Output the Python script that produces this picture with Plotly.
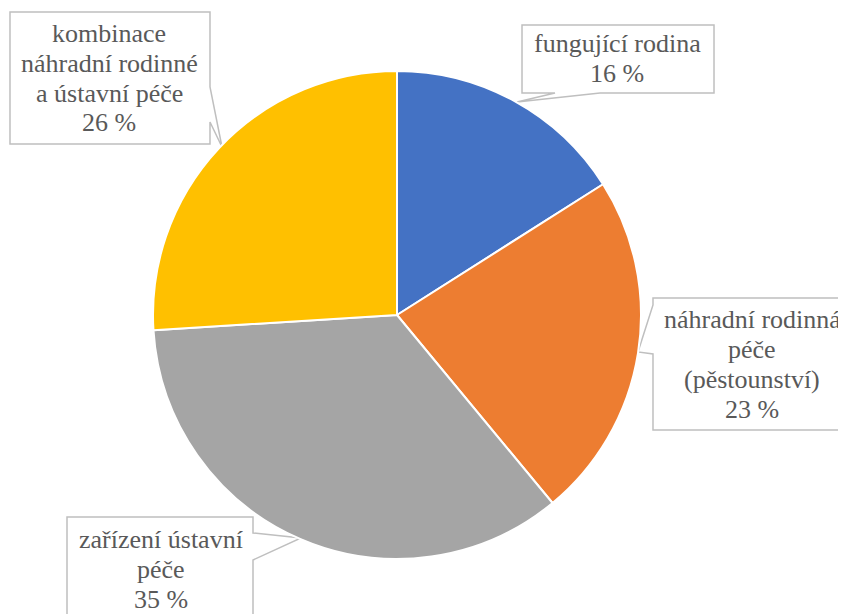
import plotly.graph_objects as go

W, H = 846, 614
OFF = 8  # page body margin offset

categories = ["fungující rodina", "náhradní rodinná péče (pěstounství)",
              "zařízení ústavní péče", "kombinace náhradní rodinné a ústavní péče"]
values = [16, 23, 35, 26]
label_lines = [["fungující rodina", "16 %"],
               ["náhradní rodinná", "péče", "(pěstounství)", "23 %"],
               ["zařízení ústavní", "péče", "35 %"],
               ["kombinace", "náhradní rodinné", "a ústavní péče", "26 %"]]
colors = ["#4472C4", "#ED7D31", "#A5A5A5", "#FFC000"]


def px(x, y):
    return (x - OFF) / W, 1 - (y - OFF) / H


cx, cy, r = 397, 315, 244
x0, y1 = px(cx - r, cy - r)
x1, y0 = px(cx + r, cy + r)
fig = go.Figure(go.Pie(
    values=values, hovertext=categories, hoverinfo="text+percent", sort=False,
    direction="clockwise", rotation=0,
    marker=dict(colors=colors, line=dict(color="white", width=2)),
    textinfo="none", showlegend=False,
    domain=dict(x=[x0, x1], y=[y0, y1]),
))

callouts = [
    ([(522, 25), (714, 25), (714, 93), (600, 93), (517, 102), (555, 93), (522, 93)], 617, 43),
    ([(653, 298), (860, 298), (860, 430), (653, 430), (653, 354), (638, 352), (653, 305)], 752, 319),
    ([(67, 517), (253, 517), (253, 533), (301, 538), (253, 560), (253, 660), (67, 660)], 161, 539),
    ([(10, 12), (210, 12), (210, 87), (222, 147), (210, 122), (210, 144), (10, 144)], 109, 33),
]
LINE = 30

for (pts, tx, ty), lines in zip(callouts, label_lines):
    path = ""
    for i, (x, y) in enumerate(pts):
        X, Y = px(x, y)
        path += ("M" if i == 0 else " L") + f" {X:.5f},{Y:.5f}"
    path += " Z"
    fig.add_shape(type="path", xref="paper", yref="paper", path=path,
                  line=dict(color="#BFBFBF", width=1.5), fillcolor="white", layer="below")
    for k, ln in enumerate(lines):
        X, Y = px(tx, ty + k * LINE)
        fig.add_annotation(x=X, y=Y, xref="paper", yref="paper", text=ln, showarrow=False,
                           xanchor="center", yanchor="middle",
                           font=dict(family="Liberation Serif", size=26, color="#595959"))

fig.update_layout(width=W, height=H, margin=dict(l=0, r=0, t=0, b=0))

fig.write_html("out.html")
